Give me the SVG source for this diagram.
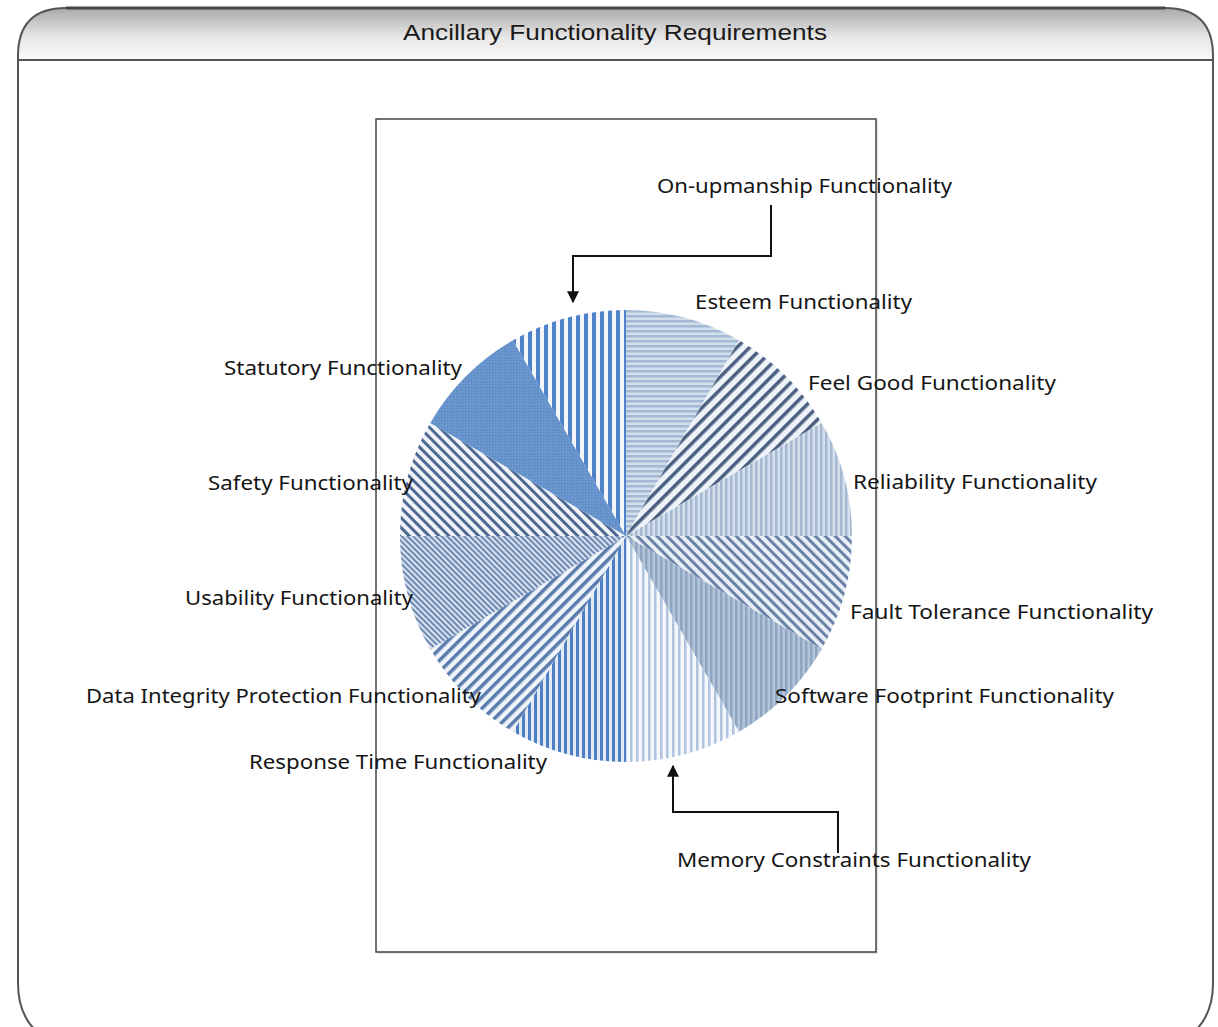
<svg xmlns="http://www.w3.org/2000/svg" width="1218" height="1027" viewBox="0 0 1218 1027">
<style>
.lbl{font-family:"Noto Sans","Open Sans","Liberation Sans",sans-serif;font-size:20px;fill:#151515;}
.title{font-family:"Liberation Sans",Arial,sans-serif;font-size:22px;fill:#1a1a1a;}
.conn{fill:none;stroke:#111;stroke-width:2;}
</style>
<defs>
<linearGradient id="hdr" x1="0" y1="0" x2="0" y2="1">
<stop offset="0" stop-color="#a9a9a9"/>
<stop offset="0.55" stop-color="#e6e6e6"/>
<stop offset="1" stop-color="#fafafa"/>
</linearGradient>
<marker id="arr" viewBox="0 0 10 10" refX="9" refY="5" markerWidth="6" markerHeight="6" orient="auto" markerUnits="strokeWidth">
<path d="M0,0 L10,5 L0,10 Z" fill="#111"/>
</marker>
<pattern id="pOn" patternUnits="userSpaceOnUse" width="8" height="8"><rect width="8" height="8" fill="#f2f6fb"/><rect width="4" height="8" fill="#4f82c8"/></pattern>
<pattern id="pEst" patternUnits="userSpaceOnUse" width="5" height="5"><rect width="5" height="5" fill="#d3deeb"/><rect width="5" height="2.5" fill="#a4b9d3"/></pattern>
<pattern id="pFeel" patternUnits="userSpaceOnUse" width="9" height="9" patternTransform="rotate(45)"><rect width="9" height="9" fill="#eef3f9"/><rect width="3.5" height="9" fill="#4b5f80"/></pattern>
<pattern id="pRel" patternUnits="userSpaceOnUse" width="5" height="5"><rect width="5" height="5" fill="#d6e0ec"/><rect width="2.5" height="5" fill="#a5b9d2"/></pattern>
<pattern id="pFault" patternUnits="userSpaceOnUse" width="7" height="7" patternTransform="rotate(-45)"><rect width="7" height="7" fill="#e8eef6"/><rect width="3" height="7" fill="#6a82a7"/></pattern>
<pattern id="pSoft" patternUnits="userSpaceOnUse" width="5" height="5"><rect width="5" height="5" fill="#b4c5d9"/><rect width="2.5" height="5" fill="#8fa6c2"/></pattern>
<pattern id="pMem" patternUnits="userSpaceOnUse" width="6" height="6"><rect width="6" height="6" fill="#f4f7fb"/><rect width="2.5" height="6" fill="#b0c4de"/></pattern>
<pattern id="pResp" patternUnits="userSpaceOnUse" width="6" height="6"><rect width="6" height="6" fill="#e2eaf6"/><rect width="3" height="6" fill="#4e7fc6"/></pattern>
<pattern id="pData" patternUnits="userSpaceOnUse" width="8" height="8" patternTransform="rotate(45)"><rect width="8" height="8" fill="#eff4fa"/><rect width="3.5" height="8" fill="#5a7bab"/></pattern>
<pattern id="pUsa" patternUnits="userSpaceOnUse" width="4" height="4" patternTransform="rotate(-45)"><rect width="4" height="4" fill="#d9e2ee"/><rect width="2" height="4" fill="#6e8ab2"/></pattern>
<pattern id="pSafe" patternUnits="userSpaceOnUse" width="7" height="7" patternTransform="rotate(-45)"><rect width="7" height="7" fill="#f0f4f9"/><rect width="3" height="7" fill="#4f6a92"/></pattern>
<pattern id="pStat" patternUnits="userSpaceOnUse" width="3" height="3"><rect width="3" height="3" fill="#6c98cf"/><rect width="1.5" height="1.5" fill="#5888c4"/></pattern>
</defs>

<g id="frame">
<path d="M18,1040 L18,56 Q18,8 66,8 L1165,8 Q1213,8 1213,56 L1213,1040" fill="#fff" stroke="none"/>
<path d="M18,60 L18,56 Q18,8 66,8 L1165,8 Q1213,8 1213,56 L1213,60 Z" fill="url(#hdr)"/>
<path d="M18,983 L18,56 Q18,8 66,8 L1165,8 Q1213,8 1213,56 L1213,983" fill="none" stroke="#555" stroke-width="2"/>
<path d="M18,983 Q18,1030 60,1045" fill="none" stroke="#555" stroke-width="2"/>
<path d="M1213,983 Q1213,1030 1171,1045" fill="none" stroke="#555" stroke-width="2"/>
<path d="M66,8 L1165,8" stroke="#444" stroke-width="3"/>
<line x1="18" y1="60" x2="1213" y2="60" stroke="#555" stroke-width="2"/>
<text class="title" x="615" y="40" text-anchor="middle" textLength="424" lengthAdjust="spacingAndGlyphs">Ancillary Functionality Requirements</text>
</g>

<g id="chart-area">
<rect x="378" y="121" width="500" height="833" fill="#e6e6e6"/>
<rect x="376" y="119" width="500" height="833" fill="#fff" stroke="#444" stroke-width="1.5"/>
</g>

<g id="pie">
<g id="esteem"><path d="M626,536 L626,310 A226,226 0 0 1 739,340.28 Z" fill="url(#pEst)"/></g>
<g id="feel-good"><path d="M626,536 L739,340.28 A226,226 0 0 1 821.72,423 Z" fill="url(#pFeel)"/></g>
<g id="reliability"><path d="M626,536 L821.72,423 A226,226 0 0 1 852,536 Z" fill="url(#pRel)"/></g>
<g id="fault-tolerance"><path d="M626,536 L852,536 A226,226 0 0 1 821.72,649 Z" fill="url(#pFault)"/></g>
<g id="software-footprint"><path d="M626,536 L821.72,649 A226,226 0 0 1 739,731.72 Z" fill="url(#pSoft)"/></g>
<g id="memory-constraints"><path d="M626,536 L739,731.72 A226,226 0 0 1 626,762 Z" fill="url(#pMem)"/></g>
<g id="response-time"><path d="M626,536 L626,762 A226,226 0 0 1 513,731.72 Z" fill="url(#pResp)"/></g>
<g id="data-integrity"><path d="M626,536 L513,731.72 A226,226 0 0 1 430.28,649 Z" fill="url(#pData)"/></g>
<g id="usability"><path d="M626,536 L430.28,649 A226,226 0 0 1 400,536 Z" fill="url(#pUsa)"/></g>
<g id="safety"><path d="M626,536 L400,536 A226,226 0 0 1 430.28,423 Z" fill="url(#pSafe)"/></g>
<g id="statutory"><path d="M626,536 L430.28,423 A226,226 0 0 1 513,340.28 Z" fill="url(#pStat)"/></g>
<g id="on-upmanship"><path d="M626,536 L513,340.28 A226,226 0 0 1 626,310 Z" fill="url(#pOn)"/></g>
</g>

<g id="labels">
<g id="label-on-upmanship"><text class="lbl" x="657" y="193" textLength="295" lengthAdjust="spacingAndGlyphs">On-upmanship Functionality</text></g>
<g id="label-esteem"><text class="lbl" x="695" y="309" textLength="217" lengthAdjust="spacingAndGlyphs">Esteem Functionality</text></g>
<g id="label-feel-good"><text class="lbl" x="808" y="390" textLength="248" lengthAdjust="spacingAndGlyphs">Feel Good Functionality</text></g>
<g id="label-statutory"><text class="lbl" x="224" y="375" textLength="238" lengthAdjust="spacingAndGlyphs">Statutory Functionality</text></g>
<g id="label-reliability"><text class="lbl" x="853" y="489" textLength="244" lengthAdjust="spacingAndGlyphs">Reliability Functionality</text></g>
<g id="label-safety"><text class="lbl" x="208" y="490" textLength="205" lengthAdjust="spacingAndGlyphs">Safety Functionality</text></g>
<g id="label-usability"><text class="lbl" x="185" y="605" textLength="228" lengthAdjust="spacingAndGlyphs">Usability Functionality</text></g>
<g id="label-fault-tolerance"><text class="lbl" x="850" y="619" textLength="303" lengthAdjust="spacingAndGlyphs">Fault Tolerance Functionality</text></g>
<g id="label-data-integrity"><text class="lbl" x="86" y="703" textLength="395" lengthAdjust="spacingAndGlyphs">Data Integrity Protection Functionality</text></g>
<g id="label-software-footprint"><text class="lbl" x="775" y="703" textLength="339" lengthAdjust="spacingAndGlyphs">Software Footprint Functionality</text></g>
<g id="label-response-time"><text class="lbl" x="249" y="769" textLength="298" lengthAdjust="spacingAndGlyphs">Response Time Functionality</text></g>
<g id="label-memory-constraints"><text class="lbl" x="677" y="867" textLength="354" lengthAdjust="spacingAndGlyphs">Memory Constraints Functionality</text></g>
</g>

<g id="connectors">
<path class="conn" d="M771,205 L771,256 L573,256 L573,302" marker-end="url(#arr)"/>
<path class="conn" d="M838,853 L838,812 L673,812 L673,766" marker-end="url(#arr)"/>
</g>
</svg>
